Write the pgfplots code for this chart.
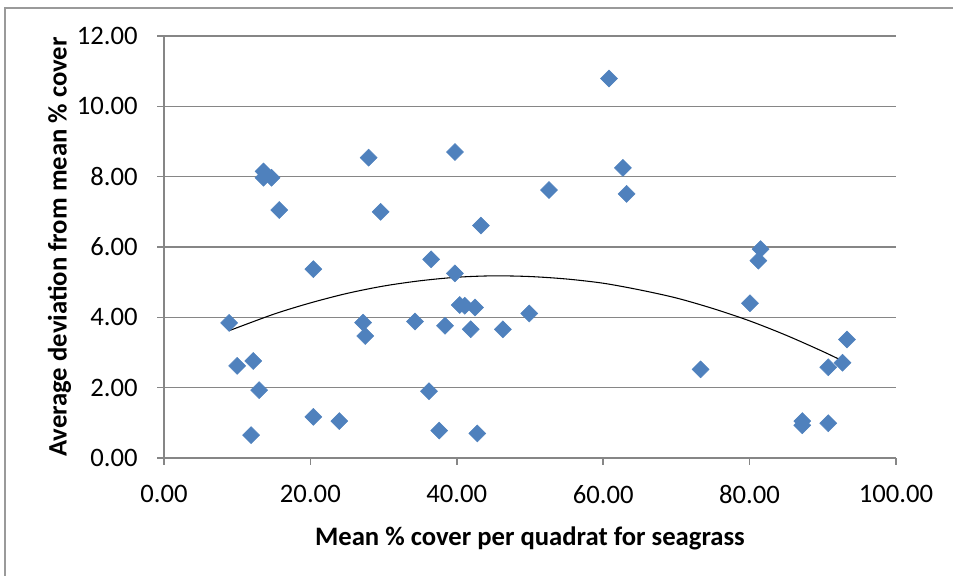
\documentclass[border=0pt]{standalone}
\usepackage{pgfplots}
\pgfplotsset{compat=1.18}
\usepackage{fontspec}
\setmainfont{Carlito}
\definecolor{mkblue}{HTML}{4F81BD}
\definecolor{gridgray}{HTML}{868686}
\definecolor{framegray}{HTML}{9A9A9A}
\newcommand{\tfont}{\fontsize{20pt}{22pt}\selectfont}
\begin{document}
\begin{tikzpicture}
\begin{axis}[
  scale only axis,
  width=549pt, height=316.5pt,
  xmin=0, xmax=100, ymin=0, ymax=12,
  xtick={0,20,...,100}, ytick={0,2,...,12},
  yticklabels={},
  axis x line*=bottom, axis y line*=left,
  axis line style={gridgray, line width=1.1pt},
  ymajorgrids, grid style={gridgray, line width=1.1pt},
  tick align=outside, major tick length=5pt,
  tick style={gridgray, line width=1.1pt},
  /pgf/number format/assume math mode=true,
  /pgf/number format/.cd, fixed, fixed zerofill, precision=2,
  /pgfplots/.cd,
  ticklabel style={font=\tfont, black},
  xticklabel style={yshift=-12pt},
  xlabel={\textbf{Mean \% cover per quadrat for seagrass}},
  ylabel={\textbf{Average deviation from mean \% cover}},
  label style={font=\tfont},
  xlabel style={yshift=-10.5pt},
  ylabel style={at={(rel axis cs:-0.1428,0.5)}, anchor=center},
  clip=false,
]
\addplot[only marks, mark=square*, mark size=4.5pt,
  mark options={rotate=45, fill=mkblue, draw=mkblue}] coordinates {
(8.9,3.84) (10.0,2.62) (12.2,2.76) (13.0,1.93) (11.9,0.65)
(13.6,8.15) (13.6,7.97) (14.7,7.97) (15.75,7.05)
(20.4,5.37) (20.4,1.17) (23.95,1.05)
(27.96,8.54) (29.6,7.0) (27.2,3.85) (27.5,3.47)
(34.3,3.88) (36.2,1.90) (36.5,5.65) (37.6,0.78) (38.4,3.76)
(39.75,8.70) (39.75,5.25) (40.4,4.35) (41.1,4.33) (42.5,4.28)
(41.9,3.66) (42.8,0.70) (43.3,6.61) (46.3,3.66) (49.9,4.11)
(52.6,7.62) (60.8,10.79) (62.7,8.25) (63.2,7.51)
(73.3,2.52) (80.05,4.40) (81.2,5.61) (81.5,5.94)
(87.2,1.05) (87.2,0.93) (90.75,0.99) (90.75,2.58)
(92.7,2.71) (93.3,3.37)
};
\addplot[black, line width=0.8pt, smooth, no marks] coordinates {
(8.9,3.62) (15,4.09) (20,4.41) (25,4.68) (30,4.89) (35,5.04)
(40,5.14) (45,5.18) (50,5.16) (55,5.09) (60,4.97) (65,4.78)
(70,4.55) (75,4.25) (80,3.90) (85,3.49) (90,3.03) (93.3,2.70)
};
\node[anchor=east, inner sep=0pt, font=\tfont, xshift=-19.5pt] at (axis cs:0,0) {0.00};
\node[anchor=east, inner sep=0pt, font=\tfont, xshift=-19.5pt] at (axis cs:0,2) {2.00};
\node[anchor=east, inner sep=0pt, font=\tfont, xshift=-19.5pt] at (axis cs:0,4) {4.00};
\node[anchor=east, inner sep=0pt, font=\tfont, xshift=-19.5pt] at (axis cs:0,6) {6.00};
\node[anchor=east, inner sep=0pt, font=\tfont, xshift=-19.5pt] at (axis cs:0,8) {8.00};
\node[anchor=east, inner sep=0pt, font=\tfont, xshift=-19.5pt] at (axis cs:0,10) {10.00};
\node[anchor=east, inner sep=0pt, font=\tfont, xshift=-19.5pt] at (axis cs:0,12) {12.00};
\coordinate (bl) at (rel axis cs:-0.2240,-0.2796);
\coordinate (tr) at (rel axis cs:1.0779,1.0853);
\draw[framegray, line width=1pt] (rel axis cs:-0.2172,-0.5) rectangle (rel axis cs:1.2,1.0664);
\end{axis}
\pgfresetboundingbox
\path[use as bounding box] (bl) rectangle (tr);
\end{tikzpicture}
\end{document}
